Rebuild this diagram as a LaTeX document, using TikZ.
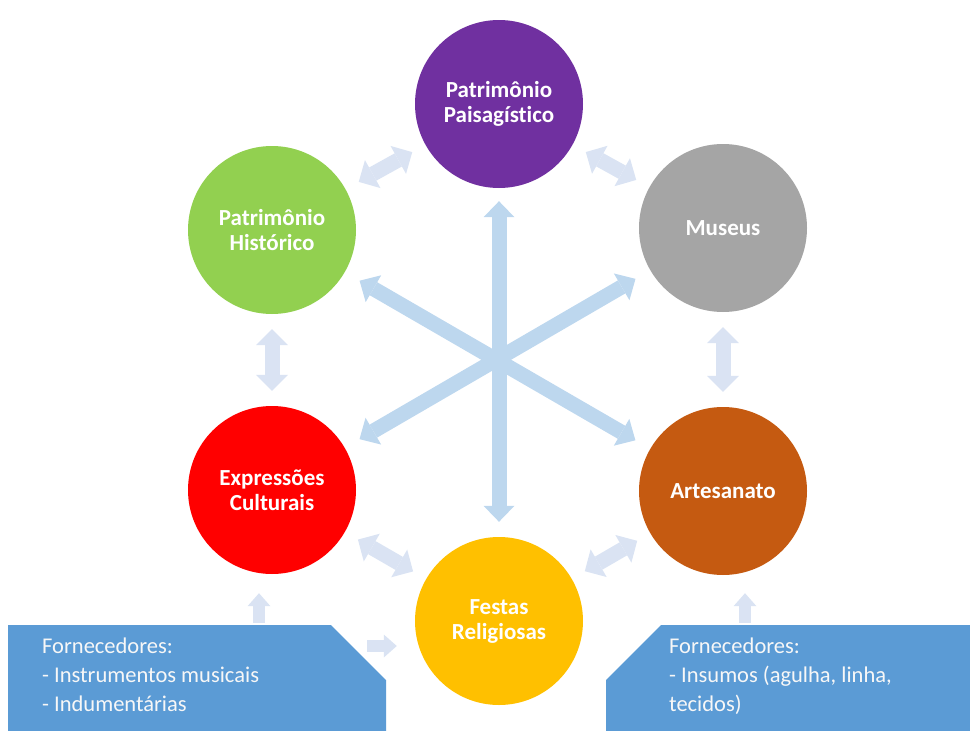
\documentclass[tikz,border=0pt]{standalone}
\usepackage{fontspec}
\setmainfont{Carlito}[Ligatures=NoCommon]
\usetikzlibrary{arrows.meta}
\definecolor{roxo}{HTML}{7030A0}
\definecolor{cinza}{HTML}{A5A5A5}
\definecolor{verde}{HTML}{92D050}
\definecolor{vermelho}{HTML}{FF0000}
\definecolor{marrom}{HTML}{C55A11}
\definecolor{amarelo}{HTML}{FFC000}
\definecolor{caixaazul}{HTML}{5B9BD5}
\definecolor{azulhub}{HTML}{BDD7EE}
\definecolor{azullink}{HTML}{DAE3F3}
\begin{document}
\begin{tikzpicture}[x=1pt,y=-1pt,
  circ/.style={circle,minimum size=168pt,inner sep=0pt,text=white,align=center,
    font=\bfseries\fontsize{23}{25}\selectfont},
  hub/.style={line width=15pt,color=azulhub,
    {Triangle[width=31pt,length=16pt,line width=0pt]}-{Triangle[width=31pt,length=16pt,line width=0pt]}},
  link/.style={line width=15pt,color=azullink,shorten <=15pt,shorten >=15pt,
    {Triangle[width=32pt,length=16pt,line width=0pt]}-{Triangle[width=32pt,length=16pt,line width=0pt]}},
  feed/.style={line width=12pt,color=azullink,
    -{Triangle[width=23pt,length=13pt,line width=0pt]}},
  txt/.style={align=left,inner sep=0pt,anchor=north west,text=white!94!gray,
    font=\fontsize{22.5}{29}\selectfont}]
\useasboundingbox (0,0) rectangle (970,731);
\clip (0,0) rectangle (970,731);
\node[circ,fill=roxo] (paisag) at (499,104) {Patrimônio\\Paisagístico};
\node[circ,fill=cinza] (museus) at (723,228) {Museus};
\node[circ,fill=verde] (hist) at (272,230) {Patrimônio\\Histórico};
\node[circ,fill=vermelho] (expr) at (272,490) {Expressões\\Culturais};
\node[circ,fill=marrom] (artes) at (723,491) {Artesanato};
\node[circ,fill=amarelo] (festas) at (499,621) {Festas\\Religiosas};
\draw[hub,shorten <=13pt,shorten >=15pt] (paisag) -- (festas);
\draw[hub,shorten <=17pt,shorten >=17pt] (hist) -- (artes);
\draw[hub,shorten <=17pt,shorten >=17pt] (expr) -- (museus);
\draw[link] (hist) -- (paisag);
\draw[link] (paisag) -- (museus);
\draw[link] (museus) -- (artes);
\draw[link] (artes) -- (festas);
\draw[link] (festas) -- (expr);
\draw[link] (expr) -- (hist);
\fill[caixaazul] (8,625) -- (331,625) -- (386,680) -- (386,740) -- (8,740) -- cycle;
\fill[caixaazul] (661,625) -- (975,625) -- (975,740) -- (606,740) -- (606,680) -- cycle;
\node[txt] (t1) at (42,638) {Fornecedores:\\- Instrumentos musicais\\- Indumentárias};
\node[txt] (t2) at (669,638) {Fornecedores:\\- Insumos (agulha, linha,\\tecidos)};
\coordinate (fe) at (259,625);
\coordinate (fd) at (745,625);
\coordinate (ff) at (367,646);
\draw[feed,shorten <=2pt,shorten >=19pt] (fe) -- (fe |- expr.south);
\draw[feed,shorten <=2pt,shorten >=18pt] (fd) -- (fd |- artes.south);
\draw[feed,shorten >=18pt] (ff) -- (ff -| festas.west);
\end{tikzpicture}
\end{document}
